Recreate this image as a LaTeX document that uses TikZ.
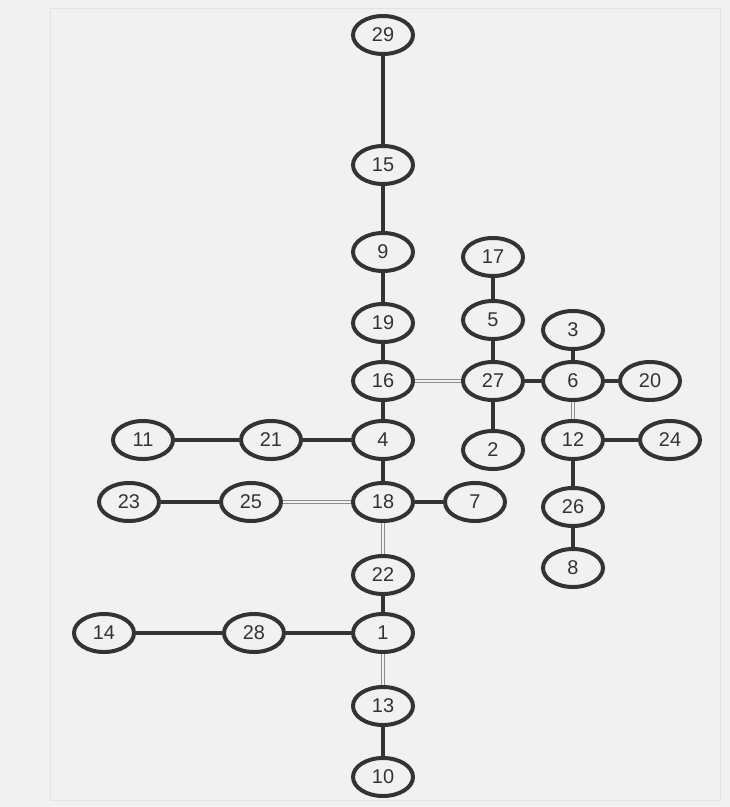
\documentclass[tikz,border=0pt]{standalone}
\usepackage{fontspec}
\setmainfont{Liberation Sans}
\usetikzlibrary{shapes.geometric}
\definecolor{paper}{HTML}{F1F1F1}
\definecolor{ink}{HTML}{333333}
\begin{document}
\begin{tikzpicture}[
	x=0.03cm, y=-0.03cm,
	vertex/.style={ ellipse, draw=ink, line width=3.4pt, fill=paper, text=ink, inner sep=0pt, minimum width=1.8cm, minimum height=1.14cm, font=\fontsize{17}{19}\selectfont },
	edge/.style={ draw=ink, line width=2.7pt },
	dbl/.style={ draw=gray!90, line width=0.85pt, double=paper, double distance=2.4pt }
]

\fill[paper] (0,0) rectangle (730,807);
\useasboundingbox (0,0) rectangle (730,807);
\draw[gray!22, line width=0.6pt] (50,8) -- (50,800) -- (720,800) -- (720,8) -- (50,8);

% main column
\node at (383,35) (29) [vertex] {29};
\node at (383,165) (15) [vertex] {15};
\node at (383,252) (9) [vertex] {9};
\node at (383,323) (19) [vertex] {19};
\node at (383,381) (16) [vertex] {16};
\node at (383,440) (4) [vertex] {4};
\node at (383,502) (18) [vertex] {18};
\node at (383,575) (22) [vertex] {22};
\node at (383,633) (1) [vertex] {1};
\node at (383,706) (13) [vertex] {13};
\node at (383,777) (10) [vertex] {10};

% left branches
\node at (271,440) (21) [vertex] {21};
\node at (143,440) (11) [vertex] {11};
\node at (251,502) (25) [vertex] {25};
\node at (129,502) (23) [vertex] {23};
\node at (475,502) (7) [vertex] {7};
\node at (254,633) (28) [vertex] {28};
\node at (104,633) (14) [vertex] {14};

% right branches
\node at (493,257) (17) [vertex] {17};
\node at (493,320) (5) [vertex] {5};
\node at (493,381) (27) [vertex] {27};
\node at (493,450) (2) [vertex] {2};
\node at (573,330) (3) [vertex] {3};
\node at (573,381) (6) [vertex] {6};
\node at (650,381) (20) [vertex] {20};
\node at (573,440) (12) [vertex] {12};
\node at (670,440) (24) [vertex] {24};
\node at (573,507) (26) [vertex] {26};
\node at (573,568) (8) [vertex] {8};

\draw[edge] (29) -- (15);
\draw[edge] (15) -- (9);
\draw[edge] (9) -- (19);
\draw[edge] (19) -- (16);
\draw[edge] (16) -- (4);
\draw[edge] (4) -- (18);
\draw[edge] (22) -- (1);
\draw[edge] (13) -- (10);
\draw[edge] (11) -- (21);
\draw[edge] (21) -- (4);
\draw[edge] (23) -- (25);
\draw[edge] (18) -- (7);
\draw[edge] (14) -- (28);
\draw[edge] (28) -- (1);
\draw[edge] (17) -- (5);
\draw[edge] (5) -- (27);
\draw[edge] (27) -- (2);
\draw[edge] (27) -- (6);
\draw[edge] (3) -- (6);
\draw[edge] (6) -- (20);
\draw[edge] (12) -- (24);
\draw[edge] (12) -- (26);
\draw[edge] (26) -- (8);
\draw[dbl] (16) -- (27);
\draw[dbl] (6) -- (12);
\draw[dbl] (25) -- (18);
\draw[dbl] (18) -- (22);
\draw[dbl] (1) -- (13);

\end{tikzpicture}
\end{document}
